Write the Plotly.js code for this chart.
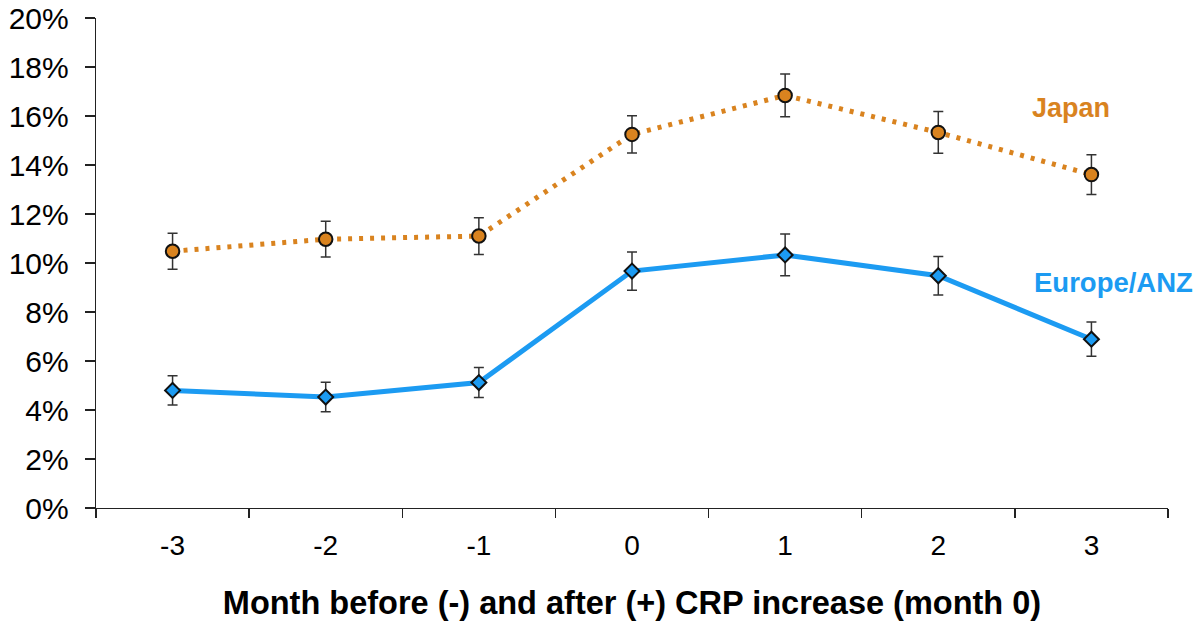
<!DOCTYPE html>
<html>
<head>
<meta charset="utf-8">
<script src="https://cdn.plot.ly/plotly-3.0.1.min.js"></script>
<style>html,body{margin:0;padding:0;background:#fff;}#chart{width:1197px;height:623px;}</style>
</head>
<body>
<div id="chart"></div>
<script>
const months = ["-3", "-2", "-1", "0", "1", "2", "3"];
const japan = [10.48, 10.97, 11.1, 15.25, 16.84, 15.33, 13.61];
const japanErr = [0.73, 0.73, 0.75, 0.76, 0.87, 0.85, 0.81];
const europe = [4.8, 4.53, 5.12, 9.67, 10.33, 9.48, 6.89];
const europeErr = [0.6, 0.6, 0.61, 0.78, 0.85, 0.79, 0.7];
const yTicks = [0, 2, 4, 6, 8, 10, 12, 14, 16, 18, 20];
const yTickText = yTicks.map(v => v + "%");

const orange = "#D9831F";
const blue = "#1C9BF2";
const font = "Liberation Sans, Arial, sans-serif";

const traces = [
  {
    x: months, y: japan, type: "scatter", mode: "lines+markers", name: "Japan",
    line: {color: orange, width: 5, dash: "4px,7px"},
    marker: {symbol: "circle", size: 13.5, color: orange, line: {color: "#111", width: 2}},
    error_y: {type: "data", array: japanErr, visible: true, color: "#333", thickness: 1.5, width: 5},
    cliponaxis: false
  },
  {
    x: months, y: europe, type: "scatter", mode: "lines+markers", name: "Europe/ANZ",
    line: {color: blue, width: 5},
    marker: {symbol: "diamond", size: 11.5, color: blue, line: {color: "#111", width: 2}},
    error_y: {type: "data", array: europeErr, visible: true, color: "#333", thickness: 1.5, width: 5},
    cliponaxis: false
  }
];

const layout = {
  width: 1197, height: 623,
  margin: {l: 96, r: 29, t: 18, b: 115},
  paper_bgcolor: "#fff", plot_bgcolor: "#fff",
  showlegend: false,
  font: {family: font, color: "#000"},
  xaxis: {
    type: "category", range: [-0.5, 6.5], autorange: false,
    tickson: "boundaries", ticks: "outside", ticklen: 9, tickwidth: 1.3,
    tickcolor: "#222", showline: true, linecolor: "#222", linewidth: 1.3,
    showgrid: false, zeroline: false, tickfont: {size: 28, color: "#000"},
    ticklabelstandoff: 12,
    title: {text: "<b>Month before (-) and after (+) CRP increase (month 0)</b>", font: {size: 32.5, color: "#000"}, standoff: 31}
  },
  yaxis: {
    range: [0, 20], tickvals: yTicks, ticktext: yTickText, ticks: "outside", ticklen: 10,
    tickwidth: 1.3, tickcolor: "#222", showline: true, linecolor: "#222", linewidth: 1.3,
    showgrid: false, zeroline: false, tickfont: {size: 30, color: "#000"},
    ticklabelstandoff: 10
  },
  annotations: [
    {text: "<b>Japan</b>", xref: "paper", yref: "paper", x: 0.9096, y: 0.8156, showarrow: false,
     xanchor: "center", yanchor: "middle", font: {size: 27, color: orange}},
    {text: "<b>Europe/ANZ</b>", xref: "paper", yref: "paper", x: 0.949, y: 0.461, showarrow: false,
     xanchor: "center", yanchor: "middle", font: {size: 27.5, color: blue}}
  ]
};

Plotly.newPlot("chart", traces, layout, {displayModeBar: false, staticPlot: true});
</script>
</body>
</html>
